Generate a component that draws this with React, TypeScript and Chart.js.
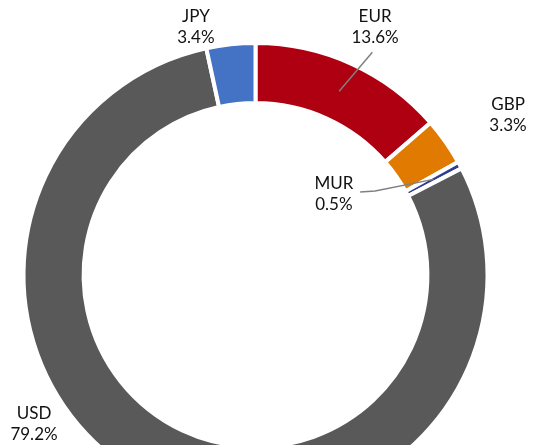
import React, { useEffect, useRef } from "react";
import { Chart, registerables } from "chart.js";

Chart.register(...registerables);

const currencies = ["EUR", "GBP", "MUR", "USD", "JPY"];
const shares = [13.6, 3.3, 0.5, 79.2, 3.4];
const shareLabels = ["13.6%", "3.3%", "0.5%", "79.2%", "3.4%"];
const sliceColors = ["#AE0010", "#E07A00", "#2F3E8F", "#595959", "#4472C4"];

// label block centre, relative to the doughnut centre in units of outer radius
const labelLayout: { dx: number; dy: number; leader?: { ex: number; ey: number; hx?: number } }[] = [
  { dx: 0.52, dy: -1.078, leader: { ex: 0.508, ey: -0.968 } },
  { dx: 1.098, dy: -0.696 },
  { dx: 0.341, dy: -0.354, leader: { ex: 0.52, ey: -0.365, hx: 0.455 } },
  { dx: -0.963, dy: 0.65 },
  { dx: -0.259, dy: -1.078 },
];

const labelPlugin = {
  id: "outLabels",
  afterDraw(chart: any) {
    const ctx = chart.ctx;
    const meta = chart.getDatasetMeta(0);
    ctx.save();
    meta.data.forEach((arc: any, i: number) => {
      const { x, y, startAngle, endAngle, innerRadius, outerRadius } = arc.getProps(
        ["x", "y", "startAngle", "endAngle", "innerRadius", "outerRadius"],
        true
      );
      const R = outerRadius - 2;
      const mid = (startAngle + endAngle) / 2;
      const midR = (innerRadius + outerRadius) / 2;
      const ax = x + Math.cos(mid) * midR;
      const ay = y + Math.sin(mid) * midR;
      const lay = labelLayout[i];
      const lx = x + lay.dx * R;
      const ly = y + lay.dy * R;
      if (lay.leader) {
        ctx.strokeStyle = "#808080";
        ctx.lineWidth = 1.5;
        ctx.beginPath();
        ctx.moveTo(ax, ay);
        const ex = x + lay.leader.ex * R;
        const ey = y + lay.leader.ey * R;
        ctx.lineTo(ex, ey);
        if (lay.leader.hx !== undefined) {
          ctx.lineTo(x + lay.leader.hx * R, ey + 1);
        }
        ctx.stroke();
      }
      ctx.fillStyle = "#111111";
      ctx.font = "17px Lato";
      ctx.textAlign = "center";
      ctx.textBaseline = "middle";
      ctx.fillText(currencies[i], lx, ly - 10.5);
      ctx.fillText(shareLabels[i], lx, ly + 10.5);
    });
    ctx.restore();
  },
};

export default function App() {
  const ref = useRef<HTMLCanvasElement | null>(null);
  useEffect(() => {
    if (!ref.current) return;
    const chart = new Chart(ref.current, {
      type: "doughnut",
      data: {
        labels: currencies,
        datasets: [
          {
            data: shares,
            backgroundColor: sliceColors,
            borderColor: "#ffffff",
            borderWidth: 4,
            hoverOffset: 0,
          },
        ],
      },
      options: {
        responsive: false,
        animation: false,
        cutout: "74.1%",
        layout: { padding: { left: 21.5, top: 41, right: 46.5, bottom: 51 } },
        plugins: { legend: { display: false }, tooltip: { enabled: false } },
      },
      plugins: [labelPlugin],
    });
    return () => chart.destroy();
  }, []);
  return (
    <div style={{ position: "fixed", left: 0, top: 0, width: 536, height: 445, overflow: "hidden", background: "#fff" }}>
      <canvas ref={ref} width={536} height={560} style={{ display: "block" }} />
    </div>
  );
}
